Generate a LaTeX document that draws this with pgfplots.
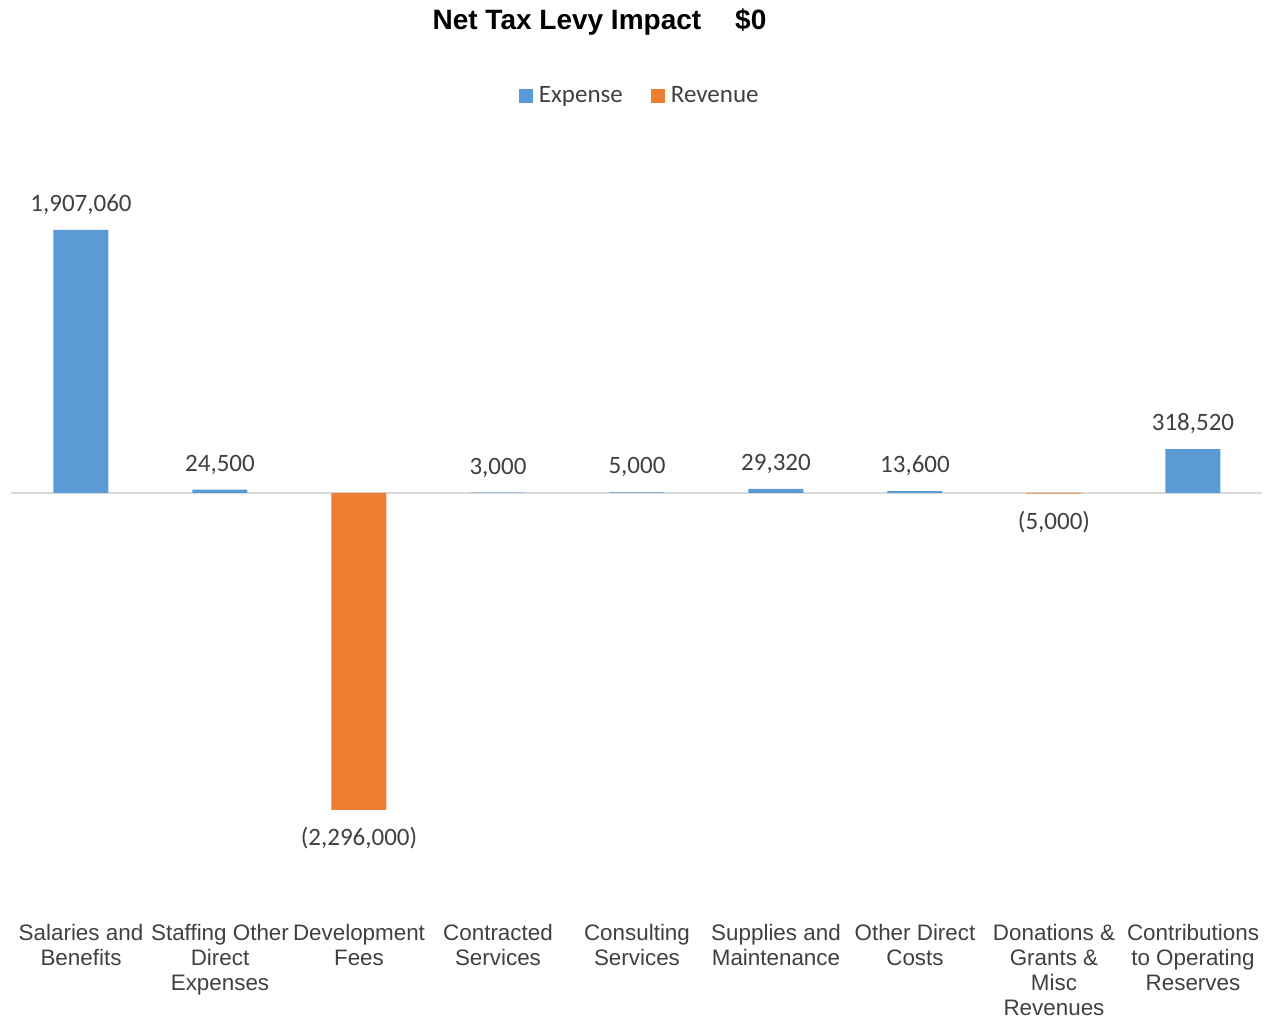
\documentclass[border=0pt]{standalone}
\usepackage{pgfplots}
\pgfplotsset{compat=1.18}
\usepackage{fontspec}
\setmainfont{Liberation Sans}
\newfontfamily\calibri{Carlito}
\definecolor{expblue}{HTML}{5B9BD5}
\definecolor{revorange}{HTML}{ED7D31}
\definecolor{lbl}{HTML}{404040}
\definecolor{zeroline}{HTML}{D9D9D9}
\begin{document}
\begin{tikzpicture}
\useasboundingbox (0pt,0pt) rectangle (632.5pt,510.5pt);
\node[anchor=base, font=\bfseries\fontsize{14}{16}\selectfont] at (299.75pt,495.5pt) {Net Tax Levy Impact\hspace{17pt}\$0};
\begin{axis}[
  at={(5.75pt,53pt)}, anchor=south west,
  scale only axis, width=625.5pt, height=387.5pt,
  xmin=-0.5, xmax=8.5,
  ymin=-3057971, ymax=2557971,
  axis line style={draw=none},
  major tick length=0pt,
  ytick=\empty,
  xtick={0,...,8},
  xticklabels={{Salaries and\\Benefits},{Staffing Other\\Direct\\Expenses},{Development\\Fees},{Contracted\\Services},{Consulting\\Services},{Supplies and\\Maintenance},{Other Direct\\Costs},{Donations \&\\Grants \&\\Misc\\Revenues},{Contributions\\to Operating\\Reserves}},
  xticklabel style={align=center, font=\fontsize{11.2}{12.5}\selectfont, text=lbl, anchor=north, inner sep=0pt, yshift=-4.6pt},
  extra y ticks={0}, extra y tick labels={},
  extra y tick style={grid=major, major grid style={draw=zeroline, line width=1pt}},
  ybar, bar width=27.5pt,
  clip=false,
  point meta=explicit symbolic,
  nodes near coords,
  nodes near coords style={font=\calibri\fontsize{12.5}{15}\selectfont, text=lbl, anchor=center, inner sep=0pt},
  legend columns=2,
  legend style={at={(0.5030,1.0570)}, anchor=center, draw=none, fill=none,
    font=\calibri\fontsize{12.5}{15}\selectfont, text=lbl,
    /tikz/every even column/.append style={column sep=12pt}},
  legend image code/.code={\fill[#1] (0pt,-3.5pt) rectangle (7pt,3.5pt);},
]
\addplot[fill=expblue, draw=none, bar shift=0pt,
  every node near coord/.append style={yshift=12.5pt}]
  table[x=x, y=y, meta=label] {
x y label
0 1907060 1,907,060
1 24500 24,500
3 3000 3,000
4 5000 5,000
5 29320 29,320
6 13600 13,600
8 318520 318,520
};
\addlegendentry{\hspace{1pt}Expense}
\addplot[fill=revorange, draw=none, bar shift=0pt,
  every node near coord/.append style={yshift=-14pt}]
  table[x=x, y=y, meta=label] {
x y label
2 -2296000 (2,296,000)
7 -5000 (5,000)
};
\addlegendentry{\hspace{1pt}Revenue}
\end{axis}
\end{tikzpicture}
\end{document}
